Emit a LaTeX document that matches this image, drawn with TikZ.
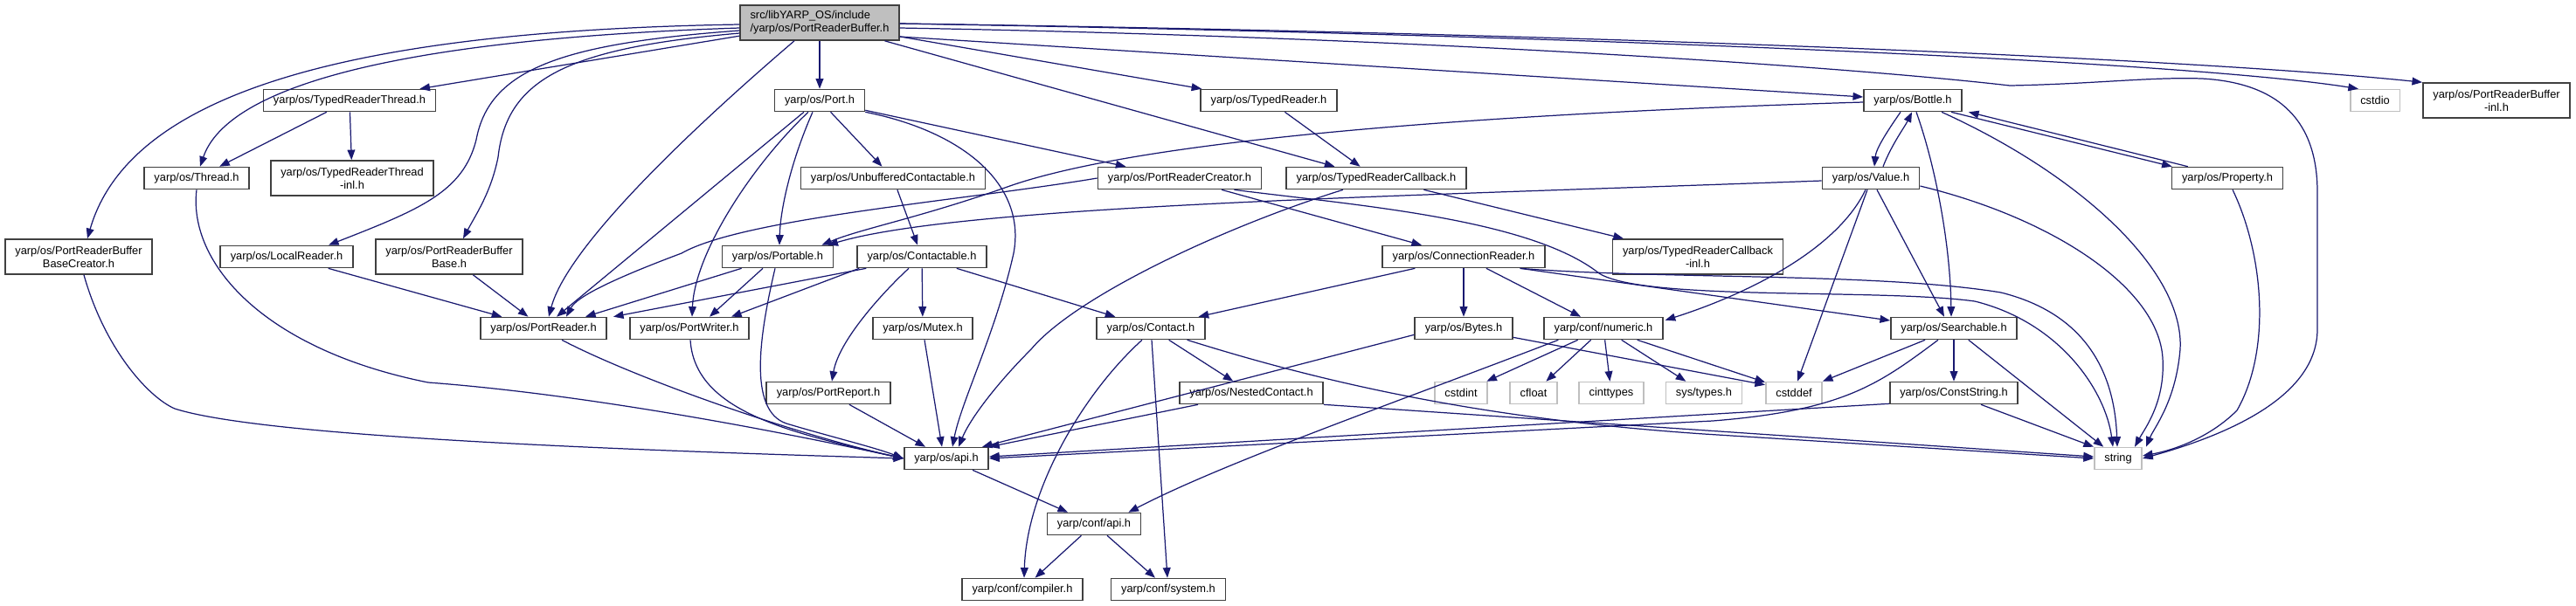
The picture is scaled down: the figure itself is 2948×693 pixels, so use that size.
\documentclass[tikz,border=0pt]{standalone}
\usepackage{fontspec}
\setsansfont{Liberation Sans}
\usetikzlibrary{arrows.meta, calc}
\definecolor{cedge}{HTML}{191970}
\definecolor{cborder}{HTML}{404040}
\definecolor{csys}{HTML}{BFBFBF}
\definecolor{croot}{HTML}{BFBFBF}
\tikzset{
  every picture/.style={font=\sffamily\fontsize{3.65}{4.3}\selectfont},
  hdr/.style={draw=cborder, fill=white, line width=0.45pt, align=center, inner xsep=0.115cm, inner ysep=0.04cm, minimum height=0.25cm},
  hdrtwo/.style={hdr, minimum height=0.4cm},
  sysh/.style={hdr, draw=csys},
  rootbox/.style={hdrtwo, fill=croot, align=left},
  dep/.style={-{Triangle[length=3.3pt, width=2.5pt]}, draw=cedge, line width=0.35pt},
}

\begin{document}
\begin{tikzpicture}[x=0.01cm, y=-0.01cm]
  \useasboundingbox (0,0) rectangle (2948,693);
  % headers
  \node[rootbox] (R) at (938,26) {src/libYARP\_OS/include\\/yarp/os/PortReaderBuffer.h};
  \node[hdr] (trt) at (400,115) {yarp/os/TypedReaderThread.h};
  \node[hdr] (port) at (938,115) {yarp/os/Port.h};
  \node[hdr] (typedreader) at (1452,115) {yarp/os/TypedReader.h};
  \node[hdr] (bottle) at (2189,115) {yarp/os/Bottle.h};
  \node[sysh] (cstdio) at (2718,115) {cstdio};
  \node[hdrtwo] (prbinl) at (2857,115) {yarp/os/PortReaderBuffer\\-inl.h};
  \node[hdr] (thread) at (225,204) {yarp/os/Thread.h};
  \node[hdrtwo] (trtinl) at (403,204) {yarp/os/TypedReaderThread\\-inl.h};
  \node[hdr] (unbuf) at (1022,204) {yarp/os/UnbufferedContactable.h};
  \node[hdr] (prc) at (1350,204) {yarp/os/PortReaderCreator.h};
  \node[hdr] (trc) at (1575,204) {yarp/os/TypedReaderCallback.h};
  \node[hdr] (value) at (2141,204) {yarp/os/Value.h};
  \node[hdr] (property) at (2549,204) {yarp/os/Property.h};
  \node[hdrtwo] (prbbc) at (90,294) {yarp/os/PortReaderBuffer\\BaseCreator.h};
  \node[hdr] (localreader) at (328,294) {yarp/os/LocalReader.h};
  \node[hdrtwo] (prbb) at (514,294) {yarp/os/PortReaderBuffer\\Base.h};
  \node[hdr] (portable) at (890,294) {yarp/os/Portable.h};
  \node[hdr] (contactable) at (1055,294) {yarp/os/Contactable.h};
  \node[hdr] (connreader) at (1675,294) {yarp/os/ConnectionReader.h};
  \node[hdrtwo] (trcinl) at (1943,294) {yarp/os/TypedReaderCallback\\-inl.h};
  \node[hdr] (portreader) at (622,376) {yarp/os/PortReader.h};
  \node[hdr] (portwriter) at (789,376) {yarp/os/PortWriter.h};
  \node[hdr] (mutex) at (1056,376) {yarp/os/Mutex.h};
  \node[hdr] (contact) at (1317,376) {yarp/os/Contact.h};
  \node[hdr] (bytes) at (1675,376) {yarp/os/Bytes.h};
  \node[hdr] (numeric) at (1835,376) {yarp/conf/numeric.h};
  \node[hdr] (searchable) at (2236,376) {yarp/os/Searchable.h};
  \node[hdr] (portreport) at (948,450) {yarp/os/PortReport.h};
  \node[hdr] (nested) at (1432,450) {yarp/os/NestedContact.h};
  \node[sysh] (cstdint) at (1672,450) {cstdint};
  \node[sysh] (cfloat) at (1755,450) {cfloat};
  \node[sysh] (cinttypes) at (1844,450) {cinttypes};
  \node[sysh] (systypes) at (1950,450) {sys/types.h};
  \node[sysh] (cstddef) at (2053,450) {cstddef};
  \node[hdr] (conststring) at (2236,450) {yarp/os/ConstString.h};
  \node[hdr] (osapi) at (1083,525) {yarp/os/api.h};
  \node[sysh] (string) at (2424,525) {string};
  \node[hdr] (confapi) at (1252,600) {yarp/conf/api.h};
  \node[hdr] (compiler) at (1170,675) {yarp/conf/compiler.h};
  \node[hdr] (system) at (1337,675) {yarp/conf/system.h};
  % includes of the file itself
  \draw[dep] (R) -- (trt);
  \draw[dep] ($(R.west)+(0,2)$) .. controls (420,35) and (150,100) .. ($(prbbc.north)+(10,0)$);
  \draw[dep] ($(R.west)+(0,6)$) .. controls (450,45) and (260,100) .. ($(thread.north)+(4,0)$);
  \draw[dep] ($(R.west)+(0,9)$) .. controls (640,50) and (560,80) .. (545,160) .. controls (530,220) and (480,240) .. ($(localreader.north)+(48,0)$);
  \draw[dep] ($(R.west)+(0,12)$) .. controls (650,55) and (580,90) .. (570,180) .. controls (562,220) and (545,245) .. ($(prbb.north)+(16,0)$);
  \draw[dep] ($(R.south)+(-29,0)$) .. controls (800,140) and (650,280) .. ($(portreader.north)+(6,0)$);
  \draw[dep] (R) -- (port);
  \draw[dep] (R) -- (typedreader);
  \draw[dep] (R) -- (trc);
  \draw[dep] ($(R.east)+(0,16)$) -- ($(bottle.west)+(0,-4)$);
  \draw[dep] ($(R.east)+(0,1)$) .. controls (1800,40) and (2500,70) .. ($(cstdio.north west)+(10,0)$);
  \draw[dep] ($(R.east)+(0,1)$) .. controls (1800,38) and (2500,66) .. (prbinl.north west);
  \draw[dep] ($(R.east)+(0,6)$) .. controls (1600,42) and (2100,75) .. (2300,98) .. controls (2400,96) and (2460,88) .. (2520,90) .. controls (2610,95) and (2652,140) .. (2652,220) -- (2652,377) .. controls (2652,450) and (2560,495) .. (string.east);
  % left part
  \draw[dep] (trt) -- (thread);
  \draw[dep] (trt) -- (trtinl);
  \draw[dep] (thread.south) .. controls (215,300) and (300,400) .. (490,438) .. controls (650,450) and (850,485) .. (osapi.west);
  \draw[dep] ($(prbbc.south)+(6,0)$) .. controls (120,400) and (170,455) .. (200,468) .. controls (300,500) and (700,515) .. (osapi.west);
  \draw[dep] (localreader) -- (portreader);
  \draw[dep] (prbb) -- (portreader);
  % Port.h
  \draw[dep] ($(port.south)+(-18,0)$) -- ($(portreader.north)+(15,0)$);
  \draw[dep] ($(port.south)+(-13,0)$) .. controls (860,190) and (795,290) .. ($(portwriter.north)+(3,0)$);
  \draw[dep] ($(port.south)+(-8,0)$) .. controls (905,185) and (893,240) .. ($(portable.north)+(2,0)$);
  \draw[dep] (port) -- (unbuf);
  \draw[dep] (port) -- (prc);
  \draw[dep] (port.south east) .. controls (1100,150) and (1175,210) .. (1160,290) .. controls (1140,380) and (1100,460) .. ($(osapi.north)+(7,0)$);
  \draw[dep] (typedreader) -- (trc);
  \draw[dep] ($(trc.south)+(-38,0)$) .. controls (1400,260) and (1230,340) .. (1180,400) .. controls (1140,440) and (1110,480) .. ($(osapi.north)+(14,0)$);
  \draw[dep] (trc) -- (trcinl);
  \draw[dep] (unbuf) -- (contactable);
  % PortReaderCreator.h
  \draw[dep] (prc.west) .. controls (1100,230) and (850,250) .. (780,290) .. controls (700,320) and (660,340) .. ($(portreader.north)+(26,0)$);
  \draw[dep] (prc) -- (connreader);
  \draw[dep] ($(prc.south east)+(-32,0)$) .. controls (1550,235) and (1750,250) .. (1830,313) .. controls (1880,345) and (2150,330) .. (2260,345) .. controls (2360,370) and (2410,450) .. ($(string.north)+(-6,0)$);
  % Bottle.h, Value.h, Property.h
  \draw[dep] ($(bottle.south)+(-14,0)$) .. controls (2160,150) and (2147,170) .. ($(value.north)+(4,0)$);
  \draw[dep] ($(value.north)+(14,0)$) .. controls (2165,165) and (2180,145) .. ($(bottle.south)+(-1,0)$);
  \draw[dep] ($(bottle.south)+(4,0)$) .. controls (2215,190) and (2232,280) .. ($(searchable.north)+(-3,0)$);
  \draw[dep] ($(bottle.south east)+(-13,0)$) -- ($(property.north west)+(1,0)$);
  \draw[dep] ($(property.north west)+(19,0)$) -- ($(bottle.south east)+(7,0)$);
  \draw[dep] ($(bottle.west)+(0,2)$) .. controls (1700,130) and (1300,160) .. (1150,215) .. controls (1050,250) and (985,262) .. ($(portable.north east)+(-14,0)$);
  \draw[dep] ($(bottle.south)+(33,0)$) .. controls (2380,200) and (2500,310) .. (2495,400) .. controls (2490,460) and (2465,490) .. ($(string.north east)+(4,0)$);
  \draw[dep] ($(value.west)+(0,3)$) .. controls (1600,225) and (1100,235) .. ($(portable.north east)+(-7,0)$);
  \draw[dep] ($(value.south)+(-6,0)$) .. controls (2100,290) and (1990,340) .. ($(numeric.north east)+(2,4)$);
  \draw[dep] ($(value.south)+(-4,0)$) -- ($(cstddef.north)+(4,0)$);
  \draw[dep] ($(value.south)+(7,0)$) -- ($(searchable.north)+(-11,0)$);
  \draw[dep] ($(value.east)+(0,9)$) .. controls (2350,250) and (2470,330) .. (2475,410) .. controls (2478,460) and (2455,490) .. ($(string.north east)+(-9,0)$);
  \draw[dep] ($(property.south)+(6,0)$) .. controls (2590,290) and (2600,400) .. (2560,470) .. controls (2530,500) and (2490,515) .. ($(string.east)+(0,-3)$);
  % Portable.h, Contactable.h
  \draw[dep] ($(portable.south west)+(23,0)$) -- ($(portreader.north)+(48,0)$);
  \draw[dep] ($(portable.south)+(-17,0)$) -- ($(portwriter.north)+(23,0)$);
  \draw[dep] ($(portable.south)+(-3,0)$) .. controls (870,380) and (855,470) .. (900,485) .. controls (950,500) and (1000,512) .. (osapi.west);
  \draw[dep] ($(contactable.south west)+(11,0)$) -- ($(portreader.north east)+(7,0)$);
  \draw[dep] ($(contactable.south west)+(3,0)$) -- ($(portwriter.north)+(48,0)$);
  \draw[dep] (contactable) -- (mutex);
  \draw[dep] ($(contactable.south)+(-15,0)$) .. controls (1010,335) and (960,390) .. ($(portreport.north)+(4,0)$);
  \draw[dep] ($(contactable.south east)+(-35,0)$) -- ($(contact.north west)+(22,0)$);
  % ConnectionReader.h
  \draw[dep] ($(connreader.south west)+(38,0)$) -- ($(contact.north east)+(-8,0)$);
  \draw[dep] (connreader) -- (bytes);
  \draw[dep] (connreader) -- (numeric);
  \draw[dep] ($(connreader.south east)+(-29,0)$) -- ($(searchable.west)+(0,-9)$);
  \draw[dep] ($(connreader.south east)+(-29,0)$) .. controls (1900,320) and (2150,312) .. (2290,335) .. controls (2390,360) and (2420,430) .. ($(string.north)+(-1,0)$);
  % into yarp/os/api.h
  \draw[dep] ($(portreader.south)+(21,0)$) .. controls (720,430) and (900,495) .. (osapi.west);
  \draw[dep] ($(portwriter.south)+(1,0)$) .. controls (795,470) and (900,495) .. (osapi.west);
  \draw[dep] ($(mutex.south)+(2,0)$) -- ($(osapi.north)+(-5,0)$);
  \draw[dep] (portreport) -- (osapi);
  % Contact.h
  \draw[dep] (contact) -- (nested);
  \draw[dep] ($(contact.south)+(-10,0)$) .. controls (1240,450) and (1175,560) .. ($(compiler.north)+(2,0)$);
  \draw[dep] ($(contact.south)+(1,0)$) -- ($(system.north)+(-1,0)$);
  \draw[dep] ($(contact.south east)+(-21,0)$) .. controls (1520,440) and (1700,480) .. (1950,497) -- (string.west);
  \draw[dep] ($(nested.south west)+(22,0)$) -- (osapi.north east);
  \draw[dep] (nested.south east) -- ($(string.west)+(0,-2)$);
  % Bytes.h, numeric.h
  \draw[dep] ($(bytes.south west)+(0,-6)$) -- ($(osapi.north east)+(-8,0)$);
  \draw[dep] ($(bytes.south east)+(0,-3)$) -- ($(cstddef.north west)+(0,4)$);
  \draw[dep] (numeric) -- (cstdint);
  \draw[dep] (numeric) -- (cfloat);
  \draw[dep] (numeric) -- (cinttypes);
  \draw[dep] (numeric) -- (systypes);
  \draw[dep] ($(numeric.south east)+(-30,0)$) -- ($(cstddef.north west)+(0,1)$);
  \draw[dep] ($(numeric.south west)+(17,0)$) .. controls (1600,460) and (1400,530) .. ($(confapi.north east)+(-15,0)$);
  % Searchable.h, ConstString.h
  \draw[dep] (searchable) -- (cstddef);
  \draw[dep] (searchable) -- (conststring);
  \draw[dep] (searchable) -- (string);
  \draw[dep] ($(searchable.south)+(-18,0)$) .. controls (2150,440) and (2110,470) .. (1960,482) -- (osapi.east);
  \draw[dep] ($(conststring.south west)+(0,-1)$) -- ($(osapi.east)+(0,-2)$);
  \draw[dep] ($(conststring.south east)+(-43,0)$) -- (string.north west);
  % yarp/os/api.h, yarp/conf/api.h
  \draw[dep] (osapi) -- (confapi);
  \draw[dep] (confapi) -- (compiler);
  \draw[dep] (confapi) -- (system);
\end{tikzpicture}
\end{document}
